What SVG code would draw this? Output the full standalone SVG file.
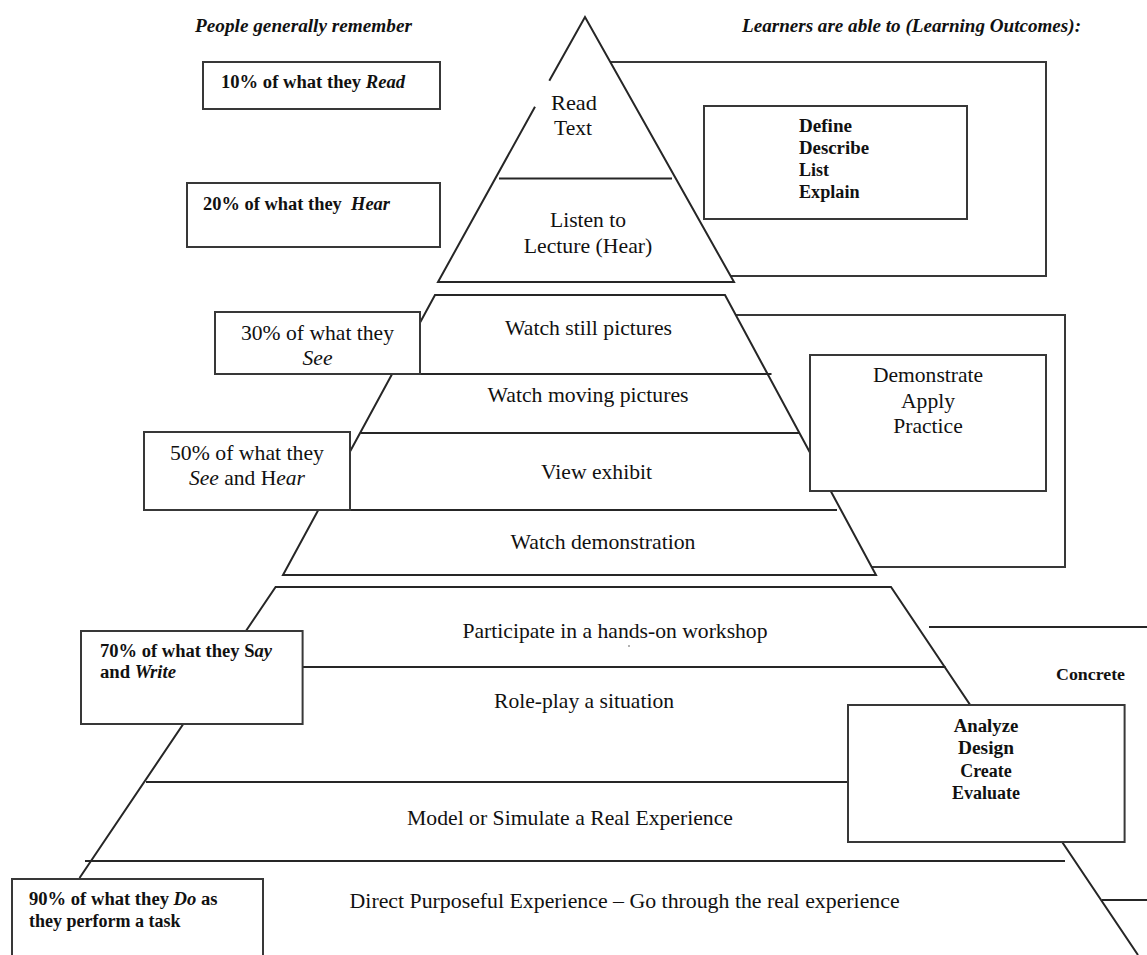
<svg xmlns="http://www.w3.org/2000/svg" width="1147" height="955" viewBox="0 0 1147 955">
<style>
.ln{stroke:#262626;stroke-width:2;fill:none}
.wf{fill:#fff}
.bx{fill:#fff;stroke:#383838;stroke-width:2}
.ob{fill:none;stroke:#383838;stroke-width:2}
.t{font-family:"Liberation Serif","Times New Roman",serif;fill:#111}
.lbl{font-size:21px}
.mid{text-anchor:middle}
.bt{font-size:18px;font-weight:bold}
.hd{font-size:18.5px;font-weight:bold;font-style:italic}
.i{font-style:italic}
</style>
<rect width="1147" height="955" fill="#fff"/>

<g id="headers">
<text class="t hd" x="195" y="32" textLength="217" lengthAdjust="spacingAndGlyphs">People generally remember</text>
<text class="t hd" x="742" y="32" textLength="339" lengthAdjust="spacingAndGlyphs">Learners are able to (Learning Outcomes):</text>
</g>

<g id="outcome-bracket-1"><rect class="ob" x="600" y="62" width="446" height="214"/></g>
<g id="outcome-bracket-2"><rect class="ob" x="720" y="315" width="345" height="252"/></g>

<g id="top-triangle">
<polygon class="wf" points="585,17 734,282 438,282"/>
<path class="ln" d="M549.3,80.7 L585,17 L734,282 L438,282 L535,106.7"/>
<line class="ln" x1="499" y1="178.5" x2="672" y2="178.5"/>
<text class="t lbl mid" x="574" y="110" textLength="46" lengthAdjust="spacingAndGlyphs">Read</text>
<text class="t lbl mid" x="573" y="135" textLength="38" lengthAdjust="spacingAndGlyphs">Text</text>
<text class="t lbl mid" x="588" y="227" textLength="76" lengthAdjust="spacingAndGlyphs">Listen to</text>
<text class="t lbl mid" x="588" y="253" textLength="128.5" lengthAdjust="spacingAndGlyphs">Lecture (Hear)</text>
</g>

<g id="middle-trapezoid">
<polygon class="wf" points="435,295 725,295 876,575 283,575"/>
<polygon class="ln" points="435,295 725,295 876,575 283,575"/>
<line class="ln" x1="392" y1="374" x2="771.5" y2="374"/>
<line class="ln" x1="360.7" y1="433" x2="799" y2="433"/>
<line class="ln" x1="318" y1="510" x2="837" y2="510"/>
<text class="t lbl mid" x="588.5" y="335" textLength="167" lengthAdjust="spacingAndGlyphs">Watch still pictures</text>
<text class="t lbl mid" x="588" y="402" textLength="201" lengthAdjust="spacingAndGlyphs">Watch moving pictures</text>
<text class="t lbl mid" x="596.5" y="479" textLength="111" lengthAdjust="spacingAndGlyphs">View exhibit</text>
<text class="t lbl mid" x="603" y="549" textLength="185" lengthAdjust="spacingAndGlyphs">Watch demonstration</text>
</g>

<g id="bottom-block">
<path class="ln" d="M79.5,878 L275.6,587 L891,587 L1138,955"/>
<line class="ln" x1="222" y1="667" x2="945.6" y2="667"/>
<line class="ln" x1="146" y1="782" x2="848" y2="782"/>
<line class="ln" x1="85" y1="861" x2="1065" y2="861"/>
<text class="t lbl mid" x="615" y="638" textLength="305" lengthAdjust="spacingAndGlyphs">Participate in a hands-on workshop</text>
<circle cx="629" cy="646" r="1" fill="#999"/>
<text class="t lbl mid" x="584" y="708" textLength="180" lengthAdjust="spacingAndGlyphs">Role-play a situation</text>
<text class="t lbl mid" x="570" y="825" textLength="326" lengthAdjust="spacingAndGlyphs">Model or Simulate a Real Experience</text>
<text class="t lbl" x="349.6" y="908" textLength="550" lengthAdjust="spacingAndGlyphs">Direct Purposeful Experience – Go through the real experience</text>
</g>

<g id="connectors">
<line class="ln" x1="929" y1="627" x2="1147" y2="627"/>
<line class="ln" x1="1102" y1="900" x2="1147" y2="900"/>
</g>

<g id="box-10">
<rect class="bx" x="203" y="62" width="237" height="47"/>
<text class="t bt" x="221" y="88" textLength="184" lengthAdjust="spacingAndGlyphs">10% of what they <tspan class="i">Read</tspan></text>
</g>
<g id="box-20">
<rect class="bx" x="187" y="183" width="253" height="64"/>
<text class="t bt" x="203" y="210" textLength="187" lengthAdjust="spacingAndGlyphs" xml:space="preserve">20% of what they  <tspan class="i">Hear</tspan></text>
</g>
<g id="box-30">
<rect class="bx" x="215" y="312" width="205" height="62"/>
<text class="t lbl mid" x="317.5" y="340" textLength="153" lengthAdjust="spacingAndGlyphs">30% of what they</text>
<text class="t lbl mid i" x="317.5" y="365" textLength="30" lengthAdjust="spacingAndGlyphs">See</text>
</g>
<g id="box-50">
<rect class="bx" x="144" y="432" width="206" height="78"/>
<text class="t lbl mid" x="247" y="460" textLength="154" lengthAdjust="spacingAndGlyphs">50% of what they</text>
<text class="t lbl mid" x="247" y="485" textLength="116" lengthAdjust="spacingAndGlyphs"><tspan class="i">See</tspan> and H<tspan class="i">ear</tspan></text>
</g>
<g id="box-70">
<rect class="bx" x="81" y="631" width="221.6" height="93"/>
<text class="t bt" x="100" y="657" textLength="172" lengthAdjust="spacingAndGlyphs">70% of what they S<tspan class="i">ay</tspan></text>
<text class="t bt" x="100" y="678" textLength="76" lengthAdjust="spacingAndGlyphs">and <tspan class="i">Write</tspan></text>
</g>
<g id="box-90">
<rect class="bx" x="12" y="879" width="251" height="90"/>
<text class="t bt" x="29" y="905" textLength="188.5" lengthAdjust="spacingAndGlyphs">90% of what they <tspan class="i">Do</tspan> as</text>
<text class="t bt" x="29" y="927" textLength="151.5" lengthAdjust="spacingAndGlyphs">they perform a task</text>
</g>

<g id="outcomes-define">
<rect class="bx" x="704" y="106" width="263" height="113"/>
<text class="t bt" x="799" y="132" textLength="53" lengthAdjust="spacingAndGlyphs">Define</text>
<text class="t bt" x="799" y="154" textLength="70" lengthAdjust="spacingAndGlyphs">Describe</text>
<text class="t bt" x="799" y="176" textLength="30" lengthAdjust="spacingAndGlyphs">List</text>
<text class="t bt" x="799" y="198" textLength="60.6" lengthAdjust="spacingAndGlyphs">Explain</text>
</g>
<g id="outcomes-demonstrate">
<rect class="bx" x="810" y="355" width="236" height="136"/>
<text class="t lbl mid" x="928" y="382" textLength="110" lengthAdjust="spacingAndGlyphs">Demonstrate</text>
<text class="t lbl mid" x="928" y="408" textLength="54" lengthAdjust="spacingAndGlyphs">Apply</text>
<text class="t lbl mid" x="928" y="433" textLength="69.5" lengthAdjust="spacingAndGlyphs">Practice</text>
</g>
<g id="outcomes-analyze">
<rect class="bx" x="848" y="705" width="276.6" height="137"/>
<text class="t bt mid" x="986" y="731.5" textLength="64.6" lengthAdjust="spacingAndGlyphs">Analyze</text>
<text class="t bt mid" x="986" y="754" textLength="56" lengthAdjust="spacingAndGlyphs">Design</text>
<text class="t bt mid" x="986" y="776.5" textLength="51.6" lengthAdjust="spacingAndGlyphs">Create</text>
<text class="t bt mid" x="986" y="798.5" textLength="68" lengthAdjust="spacingAndGlyphs">Evaluate</text>
</g>
<g id="concrete-label">
<text class="t" x="1056" y="680" font-size="17.5" font-weight="bold" textLength="69" lengthAdjust="spacingAndGlyphs">Concrete</text>
</g>
</svg>
